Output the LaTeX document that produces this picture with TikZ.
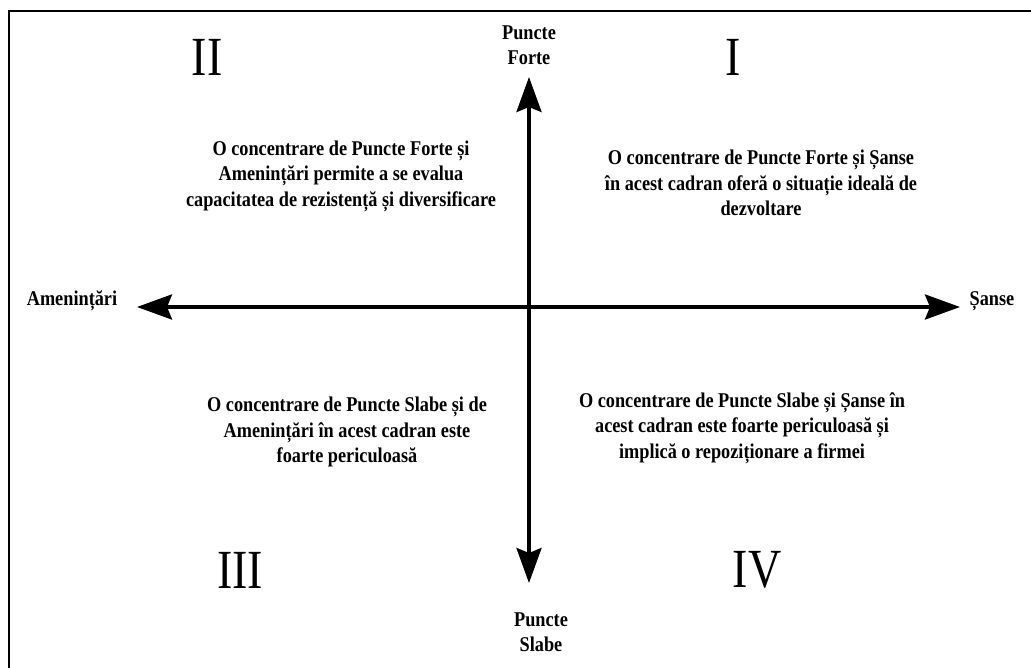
\documentclass[tikz,border=0pt]{standalone}
\usepackage{fontspec}
\usepackage{graphicx}
\setmainfont{Liberation Serif}
\newfontfamily\condfont[FakeStretch=0.87]{Liberation Serif}
\usetikzlibrary{arrows.meta}
\begin{document}
\begin{tikzpicture}[x=1pt,y=-1pt,
  axisline/.style={line width=3.6pt,{Stealth[length=35pt,width=25pt,inset=5pt]}-{Stealth[length=35pt,width=25pt,inset=5pt]}},
  frameline/.style={line width=2.4pt},
  body/.style={align=center,font=\condfont\fontsize{21}{25.5}\selectfont\bfseries,inner sep=0pt},
  axlabel/.style={align=center,font=\condfont\fontsize{21}{25}\selectfont\bfseries,inner sep=0pt},
  roman/.style={inner sep=0pt}]
\useasboundingbox (0,0) rectangle (1031,668);
\draw[frameline] (9,680) -- (9,11) -- (1045,11);
\coordinate (L) at (137,307);
\coordinate (R) at (960,307);
\coordinate (T) at (529,77);
\coordinate (B) at (529,583);
\draw[axisline] (L) -- (R);
\draw[axisline] (T) -- (B);
\node[axlabel] (amen) at (72,301) {Amenințări};
\node[axlabel] (sanse) at (992,301) {Șanse};
\node[axlabel] (pf) at (529,45) {Puncte\\Forte};
\node[axlabel] (ps) at (541,632) {Puncte\\Slabe};
\node[roman] (q2) at (207,57) {\scalebox{1}[1.2]{\fontsize{46}{46}\selectfont II}};
\node[roman] (q1) at (733,57) {\scalebox{1}[1.2]{\fontsize{46}{46}\selectfont I}};
\node[roman] (q3) at (240,570) {\scalebox{1}[1.2]{\fontsize{46}{46}\selectfont III}};
\node[roman] (q4) at (757,570) {\scalebox{1}[1.2]{\fontsize{46}{46}\selectfont IV}};
\node[body] (t2) at (341,176) {O concentrare de Puncte Forte și\\Amenințări permite a se evalua\\capacitatea de rezistență și diversificare};
\node[body] (t1) at (761,183) {O concentrare de Puncte Forte și Șanse\\în acest cadran oferă o situație ideală de\\dezvoltare};
\node[body] (t3) at (347,432) {O concentrare de Puncte Slabe și de\\Amenințări în acest cadran este\\foarte periculoasă};
\node[body] (t4) at (742,428) {O concentrare de Puncte Slabe și Șanse în\\acest cadran este foarte periculoasă și\\implică o repoziționare a firmei};
\end{tikzpicture}
\end{document}
